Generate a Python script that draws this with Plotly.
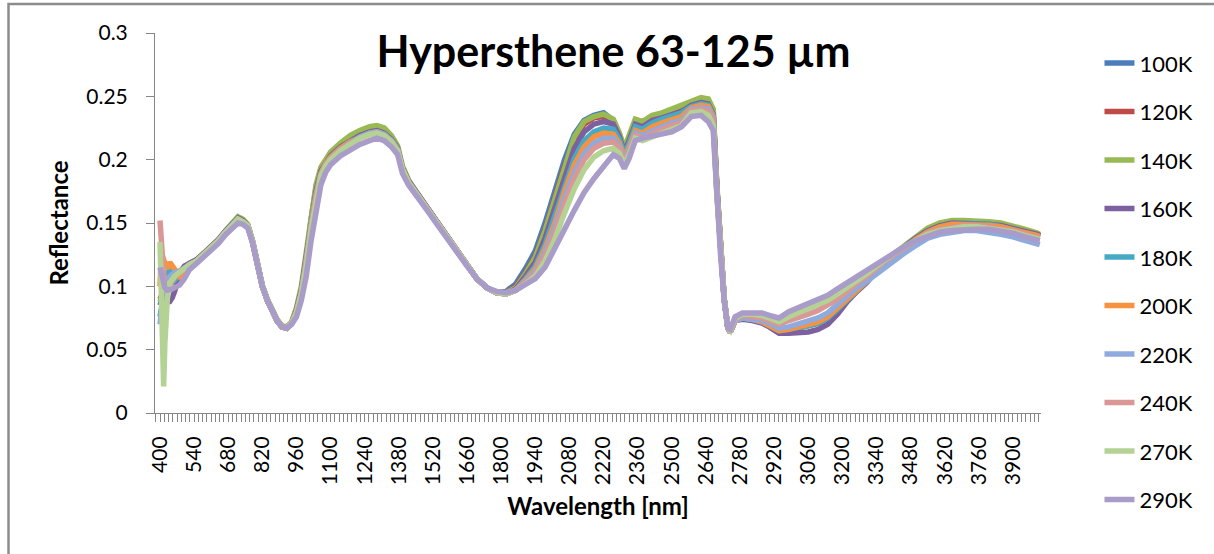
import plotly.graph_objects as go

wl = [400, 405, 410, 415, 420, 430, 440, 450, 460, 480,
      500, 520, 550, 580, 610, 640, 670, 700, 720, 740,
      760, 780, 800, 820, 840, 860, 880, 900, 920, 940,
      960, 980, 1000, 1020, 1040, 1060, 1080, 1100, 1140, 1180,
      1220, 1260, 1290, 1320, 1350, 1375, 1395, 1420, 1460, 1500,
      1540, 1580, 1620, 1660, 1700, 1740, 1780, 1820, 1860, 1900,
      1940, 1980, 2020, 2060, 2100, 2140, 2180, 2220, 2260, 2285,
      2305, 2325, 2350, 2380, 2420, 2460, 2500, 2540, 2580, 2620,
      2650, 2670, 2685, 2700, 2715, 2730, 2740, 2760, 2790, 2830,
      2870, 2900, 2940, 2980, 3020, 3060, 3100, 3140, 3180, 3220,
      3260, 3300, 3340, 3380, 3420, 3460, 3500, 3550, 3600, 3650,
      3700, 3750, 3800, 3850, 3900, 3950, 4000, 4010]

r100K = [0.085, 0.090, 0.093, 0.095, 0.097, 0.100, 0.103, 0.106, 0.108, 0.111,
         0.114, 0.117, 0.120, 0.125, 0.130, 0.136, 0.143, 0.150, 0.154, 0.152,
         0.148, 0.135, 0.116, 0.100, 0.089, 0.080, 0.073, 0.068, 0.067, 0.071,
         0.082, 0.098, 0.122, 0.153, 0.177, 0.192, 0.199, 0.204, 0.211, 0.216,
         0.220, 0.223, 0.224, 0.222, 0.217, 0.209, 0.193, 0.183, 0.172, 0.160,
         0.149, 0.138, 0.127, 0.116, 0.106, 0.099, 0.095, 0.096, 0.102, 0.114,
         0.128, 0.150, 0.175, 0.200, 0.220, 0.231, 0.235, 0.237, 0.231, 0.220,
         0.208, 0.217, 0.230, 0.228, 0.233, 0.235, 0.238, 0.240, 0.245, 0.247,
         0.246, 0.238, 0.178, 0.128, 0.090, 0.067, 0.064, 0.073, 0.075, 0.074,
         0.072, 0.069, 0.065, 0.066, 0.067, 0.069, 0.071, 0.075, 0.082, 0.089,
         0.097, 0.104, 0.113, 0.120, 0.126, 0.131, 0.137, 0.143, 0.147, 0.149,
         0.149, 0.149, 0.149, 0.147, 0.145, 0.142, 0.140, 0.139]

r120K = [0.090, 0.093, 0.095, 0.097, 0.099, 0.102, 0.105, 0.107, 0.109, 0.111,
         0.114, 0.117, 0.120, 0.125, 0.130, 0.136, 0.143, 0.150, 0.154, 0.152,
         0.148, 0.135, 0.116, 0.100, 0.089, 0.080, 0.073, 0.068, 0.067, 0.071,
         0.081, 0.097, 0.120, 0.151, 0.175, 0.191, 0.198, 0.203, 0.210, 0.215,
         0.219, 0.222, 0.223, 0.221, 0.216, 0.209, 0.193, 0.183, 0.172, 0.160,
         0.149, 0.138, 0.127, 0.116, 0.106, 0.099, 0.095, 0.095, 0.100, 0.111,
         0.124, 0.145, 0.170, 0.195, 0.216, 0.228, 0.233, 0.234, 0.229, 0.219,
         0.207, 0.216, 0.229, 0.227, 0.232, 0.234, 0.237, 0.239, 0.244, 0.246,
         0.245, 0.237, 0.177, 0.128, 0.090, 0.067, 0.064, 0.073, 0.075, 0.074,
         0.072, 0.069, 0.065, 0.066, 0.067, 0.069, 0.071, 0.075, 0.082, 0.089,
         0.097, 0.104, 0.113, 0.120, 0.126, 0.132, 0.138, 0.144, 0.148, 0.150,
         0.150, 0.150, 0.150, 0.148, 0.146, 0.143, 0.141, 0.140]

r140K = [0.088, 0.091, 0.094, 0.096, 0.098, 0.101, 0.104, 0.107, 0.109, 0.112,
         0.115, 0.118, 0.121, 0.126, 0.131, 0.137, 0.144, 0.151, 0.155, 0.153,
         0.149, 0.136, 0.117, 0.101, 0.090, 0.081, 0.074, 0.069, 0.068, 0.072,
         0.083, 0.100, 0.125, 0.156, 0.180, 0.194, 0.201, 0.206, 0.213, 0.219,
         0.223, 0.226, 0.227, 0.225, 0.219, 0.211, 0.195, 0.184, 0.172, 0.161,
         0.149, 0.138, 0.127, 0.116, 0.106, 0.099, 0.095, 0.095, 0.099, 0.110,
         0.123, 0.144, 0.169, 0.196, 0.218, 0.230, 0.234, 0.236, 0.232, 0.221,
         0.209, 0.219, 0.232, 0.230, 0.235, 0.237, 0.240, 0.242, 0.246, 0.249,
         0.248, 0.240, 0.180, 0.129, 0.090, 0.067, 0.064, 0.073, 0.075, 0.074,
         0.072, 0.069, 0.065, 0.066, 0.067, 0.069, 0.071, 0.075, 0.082, 0.089,
         0.097, 0.104, 0.113, 0.121, 0.127, 0.133, 0.139, 0.146, 0.150, 0.152,
         0.152, 0.152, 0.151, 0.150, 0.148, 0.145, 0.142, 0.141]

r160K = [0.092, 0.091, 0.090, 0.089, 0.089, 0.088, 0.088, 0.091, 0.096, 0.110,
         0.116, 0.118, 0.121, 0.126, 0.131, 0.137, 0.144, 0.151, 0.154, 0.152,
         0.148, 0.135, 0.116, 0.100, 0.089, 0.080, 0.073, 0.068, 0.067, 0.071,
         0.081, 0.097, 0.121, 0.151, 0.175, 0.191, 0.198, 0.203, 0.210, 0.215,
         0.219, 0.222, 0.223, 0.221, 0.216, 0.209, 0.193, 0.183, 0.172, 0.160,
         0.149, 0.138, 0.127, 0.116, 0.106, 0.099, 0.095, 0.094, 0.098, 0.108,
         0.119, 0.138, 0.162, 0.188, 0.209, 0.222, 0.228, 0.230, 0.228, 0.218,
         0.206, 0.215, 0.228, 0.226, 0.231, 0.233, 0.236, 0.238, 0.243, 0.245,
         0.244, 0.236, 0.177, 0.128, 0.090, 0.067, 0.064, 0.073, 0.074, 0.073,
         0.071, 0.068, 0.063, 0.063, 0.063, 0.064, 0.066, 0.070, 0.078, 0.088,
         0.096, 0.103, 0.112, 0.120, 0.126, 0.132, 0.138, 0.144, 0.148, 0.150,
         0.150, 0.150, 0.149, 0.148, 0.146, 0.143, 0.141, 0.140]

r180K = [0.076, 0.082, 0.090, 0.097, 0.104, 0.110, 0.113, 0.111, 0.105, 0.109,
         0.114, 0.117, 0.120, 0.125, 0.130, 0.136, 0.143, 0.150, 0.153, 0.151,
         0.148, 0.135, 0.116, 0.100, 0.089, 0.080, 0.073, 0.068, 0.067, 0.071,
         0.080, 0.095, 0.118, 0.148, 0.172, 0.189, 0.197, 0.202, 0.209, 0.214,
         0.218, 0.221, 0.222, 0.220, 0.215, 0.208, 0.192, 0.182, 0.171, 0.160,
         0.149, 0.138, 0.127, 0.116, 0.106, 0.099, 0.095, 0.094, 0.097, 0.106,
         0.116, 0.133, 0.155, 0.180, 0.201, 0.215, 0.222, 0.225, 0.224, 0.216,
         0.204, 0.213, 0.226, 0.224, 0.229, 0.232, 0.235, 0.237, 0.242, 0.244,
         0.243, 0.235, 0.176, 0.127, 0.090, 0.067, 0.064, 0.073, 0.075, 0.074,
         0.072, 0.069, 0.065, 0.066, 0.067, 0.069, 0.071, 0.075, 0.082, 0.089,
         0.097, 0.104, 0.113, 0.120, 0.126, 0.131, 0.137, 0.143, 0.147, 0.149,
         0.149, 0.149, 0.149, 0.147, 0.145, 0.142, 0.140, 0.139]

r200K = [0.100, 0.125, 0.124, 0.121, 0.118, 0.114, 0.119, 0.116, 0.112, 0.108,
         0.112, 0.116, 0.119, 0.124, 0.129, 0.135, 0.142, 0.149, 0.153, 0.151,
         0.148, 0.135, 0.116, 0.100, 0.089, 0.080, 0.073, 0.068, 0.067, 0.071,
         0.080, 0.095, 0.118, 0.148, 0.172, 0.189, 0.197, 0.202, 0.209, 0.214,
         0.218, 0.221, 0.222, 0.220, 0.215, 0.208, 0.192, 0.182, 0.171, 0.160,
         0.149, 0.138, 0.127, 0.116, 0.106, 0.099, 0.095, 0.094, 0.097, 0.105,
         0.114, 0.130, 0.150, 0.175, 0.196, 0.210, 0.218, 0.221, 0.220, 0.213,
         0.202, 0.210, 0.223, 0.221, 0.226, 0.229, 0.232, 0.234, 0.241, 0.243,
         0.242, 0.234, 0.176, 0.127, 0.090, 0.067, 0.064, 0.073, 0.075, 0.074,
         0.072, 0.069, 0.065, 0.066, 0.068, 0.070, 0.072, 0.076, 0.083, 0.090,
         0.097, 0.104, 0.113, 0.120, 0.126, 0.131, 0.137, 0.143, 0.147, 0.149,
         0.149, 0.149, 0.148, 0.147, 0.145, 0.142, 0.140, 0.139]

r220K = [0.070, 0.080, 0.090, 0.097, 0.102, 0.106, 0.108, 0.110, 0.111, 0.112,
         0.114, 0.117, 0.120, 0.125, 0.130, 0.136, 0.143, 0.150, 0.153, 0.151,
         0.148, 0.135, 0.116, 0.100, 0.089, 0.080, 0.073, 0.068, 0.067, 0.071,
         0.079, 0.094, 0.117, 0.146, 0.170, 0.188, 0.196, 0.201, 0.208, 0.213,
         0.218, 0.221, 0.222, 0.220, 0.215, 0.208, 0.192, 0.182, 0.171, 0.160,
         0.149, 0.138, 0.127, 0.116, 0.106, 0.099, 0.095, 0.094, 0.097, 0.104,
         0.112, 0.127, 0.146, 0.170, 0.190, 0.205, 0.213, 0.217, 0.217, 0.211,
         0.200, 0.208, 0.221, 0.219, 0.223, 0.226, 0.229, 0.231, 0.240, 0.241,
         0.240, 0.232, 0.175, 0.127, 0.090, 0.067, 0.064, 0.073, 0.075, 0.074,
         0.073, 0.071, 0.067, 0.068, 0.070, 0.073, 0.075, 0.079, 0.086, 0.092,
         0.099, 0.104, 0.110, 0.116, 0.122, 0.127, 0.132, 0.138, 0.141, 0.143,
         0.144, 0.144, 0.143, 0.141, 0.139, 0.136, 0.134, 0.133]

r240K = [0.152, 0.135, 0.115, 0.100, 0.095, 0.098, 0.101, 0.104, 0.107, 0.111,
         0.114, 0.117, 0.120, 0.125, 0.130, 0.136, 0.143, 0.150, 0.153, 0.151,
         0.148, 0.135, 0.116, 0.100, 0.089, 0.080, 0.073, 0.068, 0.067, 0.071,
         0.079, 0.094, 0.117, 0.146, 0.170, 0.188, 0.196, 0.201, 0.208, 0.213,
         0.217, 0.220, 0.221, 0.219, 0.214, 0.207, 0.192, 0.182, 0.171, 0.160,
         0.149, 0.138, 0.127, 0.116, 0.106, 0.099, 0.095, 0.094, 0.097, 0.103,
         0.110, 0.124, 0.142, 0.165, 0.185, 0.200, 0.209, 0.213, 0.214, 0.209,
         0.198, 0.206, 0.219, 0.217, 0.221, 0.224, 0.227, 0.229, 0.239, 0.240,
         0.238, 0.230, 0.174, 0.127, 0.090, 0.067, 0.064, 0.074, 0.077, 0.076,
         0.075, 0.073, 0.070, 0.073, 0.075, 0.078, 0.081, 0.085, 0.090, 0.096,
         0.103, 0.108, 0.115, 0.121, 0.126, 0.131, 0.136, 0.142, 0.145, 0.147,
         0.148, 0.148, 0.147, 0.146, 0.144, 0.141, 0.139, 0.138]

r270K = [0.135, 0.100, 0.050, 0.021, 0.055, 0.090, 0.103, 0.106, 0.108, 0.111,
         0.114, 0.117, 0.120, 0.125, 0.130, 0.136, 0.143, 0.150, 0.153, 0.151,
         0.148, 0.135, 0.116, 0.100, 0.089, 0.080, 0.073, 0.068, 0.067, 0.071,
         0.079, 0.094, 0.116, 0.145, 0.169, 0.187, 0.195, 0.200, 0.207, 0.212,
         0.217, 0.220, 0.221, 0.219, 0.214, 0.207, 0.192, 0.182, 0.171, 0.160,
         0.149, 0.138, 0.127, 0.116, 0.106, 0.099, 0.095, 0.094, 0.097, 0.102,
         0.108, 0.120, 0.137, 0.158, 0.177, 0.192, 0.202, 0.207, 0.209, 0.205,
         0.196, 0.204, 0.217, 0.215, 0.218, 0.221, 0.224, 0.227, 0.237, 0.238,
         0.235, 0.227, 0.172, 0.126, 0.090, 0.067, 0.065, 0.075, 0.078, 0.078,
         0.077, 0.075, 0.072, 0.076, 0.079, 0.082, 0.085, 0.089, 0.094, 0.099,
         0.105, 0.110, 0.116, 0.122, 0.127, 0.132, 0.136, 0.141, 0.144, 0.146,
         0.147, 0.147, 0.146, 0.145, 0.143, 0.140, 0.138, 0.137]

r290K = [0.115, 0.110, 0.105, 0.102, 0.099, 0.097, 0.097, 0.098, 0.099, 0.101,
         0.106, 0.113, 0.118, 0.123, 0.128, 0.134, 0.141, 0.147, 0.150, 0.149,
         0.146, 0.134, 0.116, 0.100, 0.089, 0.080, 0.073, 0.068, 0.067, 0.070,
         0.076, 0.089, 0.108, 0.136, 0.161, 0.180, 0.190, 0.196, 0.203, 0.208,
         0.212, 0.215, 0.217, 0.215, 0.210, 0.204, 0.189, 0.180, 0.170, 0.159,
         0.148, 0.137, 0.126, 0.116, 0.106, 0.099, 0.096, 0.095, 0.097, 0.101,
         0.106, 0.115, 0.129, 0.145, 0.160, 0.174, 0.185, 0.195, 0.204, 0.201,
         0.193, 0.201, 0.215, 0.217, 0.219, 0.220, 0.222, 0.226, 0.234, 0.235,
         0.230, 0.223, 0.170, 0.125, 0.089, 0.067, 0.066, 0.076, 0.079, 0.079,
         0.079, 0.077, 0.075, 0.080, 0.083, 0.086, 0.089, 0.093, 0.098, 0.103,
         0.108, 0.112, 0.118, 0.123, 0.128, 0.132, 0.136, 0.140, 0.143, 0.144,
         0.145, 0.145, 0.145, 0.144, 0.142, 0.139, 0.137, 0.136]

series_names = ["100K", "120K", "140K", "160K", "180K", "200K", "220K", "240K", "270K", "290K"]
series_values = [r100K, r120K, r140K, r160K, r180K, r200K, r220K, r240K, r270K, r290K]
series_colors = ["#4A7EBB", "#BE4B48", "#98B954", "#7D60A0", "#46AAC5",
                 "#F69240", "#8FAADC", "#D99795", "#B5D295", "#A99CC8"]

x_tickvals = [400, 540, 680, 820, 960, 1100, 1240, 1380, 1520, 1660, 1800, 1940, 2080,
              2220, 2360, 2500, 2640, 2780, 2920, 3060, 3200, 3340, 3480, 3620, 3760, 3900]
y_tickvals = [0, 0.05, 0.1, 0.15, 0.2, 0.25, 0.3]

FONT = "Lato"
AXIS_COL = "#868686"

fig = go.Figure()
for name, vals, col in zip(series_names, series_values, series_colors):
    assert len(vals) == len(wl), name
    fig.add_trace(go.Scatter(
        x=wl, y=vals, mode="lines", name=name, legendgroup=name,
        line=dict(color=col, width=5.5, shape="linear"),
    ))

fig.update_layout(
    width=1214, height=554, autosize=False,
    margin=dict(l=155, r=173, t=33, b=141),
    paper_bgcolor="white", plot_bgcolor="white",
    font=dict(family=FONT, size=21, color="#000000"),
    title=dict(text="Hypersthene 63-125 µm", xref="container", yref="container",
               x=613.5 / 1214, xanchor="center", y=1 - 52 / 554, yanchor="middle",
               font=dict(family=FONT, size=43, color="#000000", weight="bold")),
    showlegend=True,
    legend=dict(x=1.066, xanchor="left", y=0.9755, yanchor="top",
                font=dict(family=FONT, size=22, color="#000000"),
                tracegroupgap=16.9, itemwidth=30, bgcolor="rgba(0,0,0,0)",
                maxheight=540),
    xaxis=dict(
        range=[379.5, 4015], showgrid=False, zeroline=False,
        showline=True, linecolor=AXIS_COL, linewidth=1,
        tickmode="array", tickvals=x_tickvals, ticktext=[str(v) for v in x_tickvals],
        tickangle=-90, ticks="outside", ticklen=8, tickcolor=AXIS_COL,
        ticklabelstandoff=6,
        minor=dict(ticks="outside", ticklen=8, tickcolor=AXIS_COL, dtick=17.5, tick0=400),
        tickfont=dict(family=FONT, size=21, color="#000000"),
        title=dict(text="Wavelength [nm]", standoff=14,
                   font=dict(family=FONT, size=24, color="#000000", weight="bold")),
        automargin=False,
    ),
    yaxis=dict(
        range=[0, 0.3], showgrid=False, zeroline=False,
        showline=True, linecolor=AXIS_COL, linewidth=1,
        tickmode="array", tickvals=y_tickvals, ticktext=["0", "0.05", "0.1", "0.15", "0.2", "0.25", "0.3"],
        ticks="outside", ticklen=8, tickcolor=AXIS_COL, ticklabelstandoff=14,
        tickfont=dict(family=FONT, size=21, color="#000000"),
        title=dict(text="Reflectance", standoff=10,
                   font=dict(family=FONT, size=24, color="#000000", weight="bold")),
        automargin=False,
    ),
    shapes=[dict(type="rect", xref="paper", yref="paper",
                 x0=(8.5 - 155) / 886, x1=(1240 - 155) / 886,
                 y0=(413 - 600) / 380, y1=(413 - 4) / 380,
                 line=dict(color="#8C8C8C", width=2.5), fillcolor="rgba(0,0,0,0)",
                 layer="below")],
)

fig.write_html("out.html")
